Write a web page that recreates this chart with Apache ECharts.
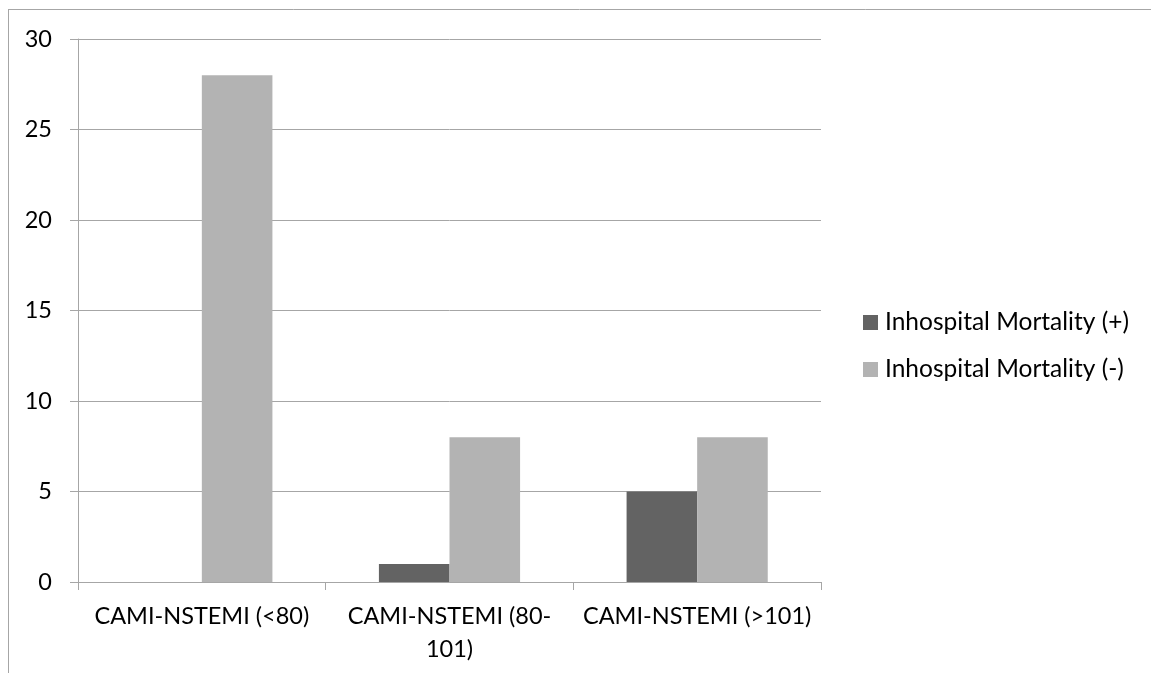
<!DOCTYPE html>
<html>
<head>
<meta charset="utf-8">
<script src="https://cdn.jsdelivr.net/npm/echarts@6/dist/echarts.min.js"></script>
<style>
  html, body { margin: 0; padding: 0; background: #fff; }
  #chart { width: 1151px; height: 673px; }
</style>
</head>
<body>
<div id="chart"></div>
<script>
// Patient counts per CAMI-NSTEMI score group
const categories = ['CAMI-NSTEMI (<80)', 'CAMI-NSTEMI (80-\n101)', 'CAMI-NSTEMI (>101)'];
const seriesNames = ['Inhospital Mortality (+)', 'Inhospital Mortality (-)'];
const mortalityPos = [0, 1, 5];
const mortalityNeg = [28, 8, 8];
const yTicks = [0, 5, 10, 15, 20, 25, 30];

const FONT = 'Lato';
const AXIS_GREY = '#a6a6a6';

const chart = echarts.init(document.getElementById('chart'), null, { renderer: 'canvas' });
chart.setOption({
  animation: false,
  backgroundColor: '#ffffff',
  textStyle: { fontFamily: FONT, color: '#000' },
  graphic: [
    // chart frame (top and left edges)
    { type: 'line', shape: { x1: 8, y1: 9.5, x2: 1151, y2: 9.5 }, style: { stroke: AXIS_GREY, lineWidth: 1 } },
    { type: 'line', shape: { x1: 8.5, y1: 9, x2: 8.5, y2: 673 }, style: { stroke: AXIS_GREY, lineWidth: 1 } }
  ],
  grid: { left: 78, top: 39, right: 330, bottom: 91, containLabel: false },
  legend: {
    orient: 'vertical',
    left: 863,
    top: 310,
    padding: 0,
    itemWidth: 15,
    itemHeight: 15,
    itemGap: 22,
    icon: 'rect',
    textStyle: { fontFamily: FONT, fontSize: 24.5, color: '#000', padding: [0, 0, 0, 2] },
    data: seriesNames
  },
  xAxis: {
    type: 'category',
    data: categories,
    axisLine: { lineStyle: { color: AXIS_GREY, width: 1 } },
    axisTick: { show: true, length: 8, alignWithLabel: false, lineStyle: { color: AXIS_GREY } },
    axisLabel: { fontFamily: FONT, fontSize: 23.5, color: '#000', margin: 18, lineHeight: 33, interval: 0 },
    splitLine: { show: false }
  },
  yAxis: {
    type: 'value',
    min: yTicks[0],
    max: yTicks[yTicks.length - 1],
    interval: 5,
    axisLine: { show: true, lineStyle: { color: AXIS_GREY, width: 1 } },
    axisTick: { show: true, length: 8, lineStyle: { color: AXIS_GREY } },
    axisLabel: { fontFamily: FONT, fontSize: 23.5, color: '#000', margin: 26 },
    splitLine: { show: true, lineStyle: { color: AXIS_GREY, width: 1 } }
  },
  series: [
    {
      name: seriesNames[0],
      type: 'bar',
      data: mortalityPos,
      itemStyle: { color: '#636363' },
      barGap: '0%',
      barCategoryGap: '43%'
    },
    {
      name: seriesNames[1],
      type: 'bar',
      data: mortalityNeg,
      itemStyle: { color: '#b3b3b3' },
      barGap: '0%',
      barCategoryGap: '43%'
    }
  ]
});
</script>
</body>
</html>
